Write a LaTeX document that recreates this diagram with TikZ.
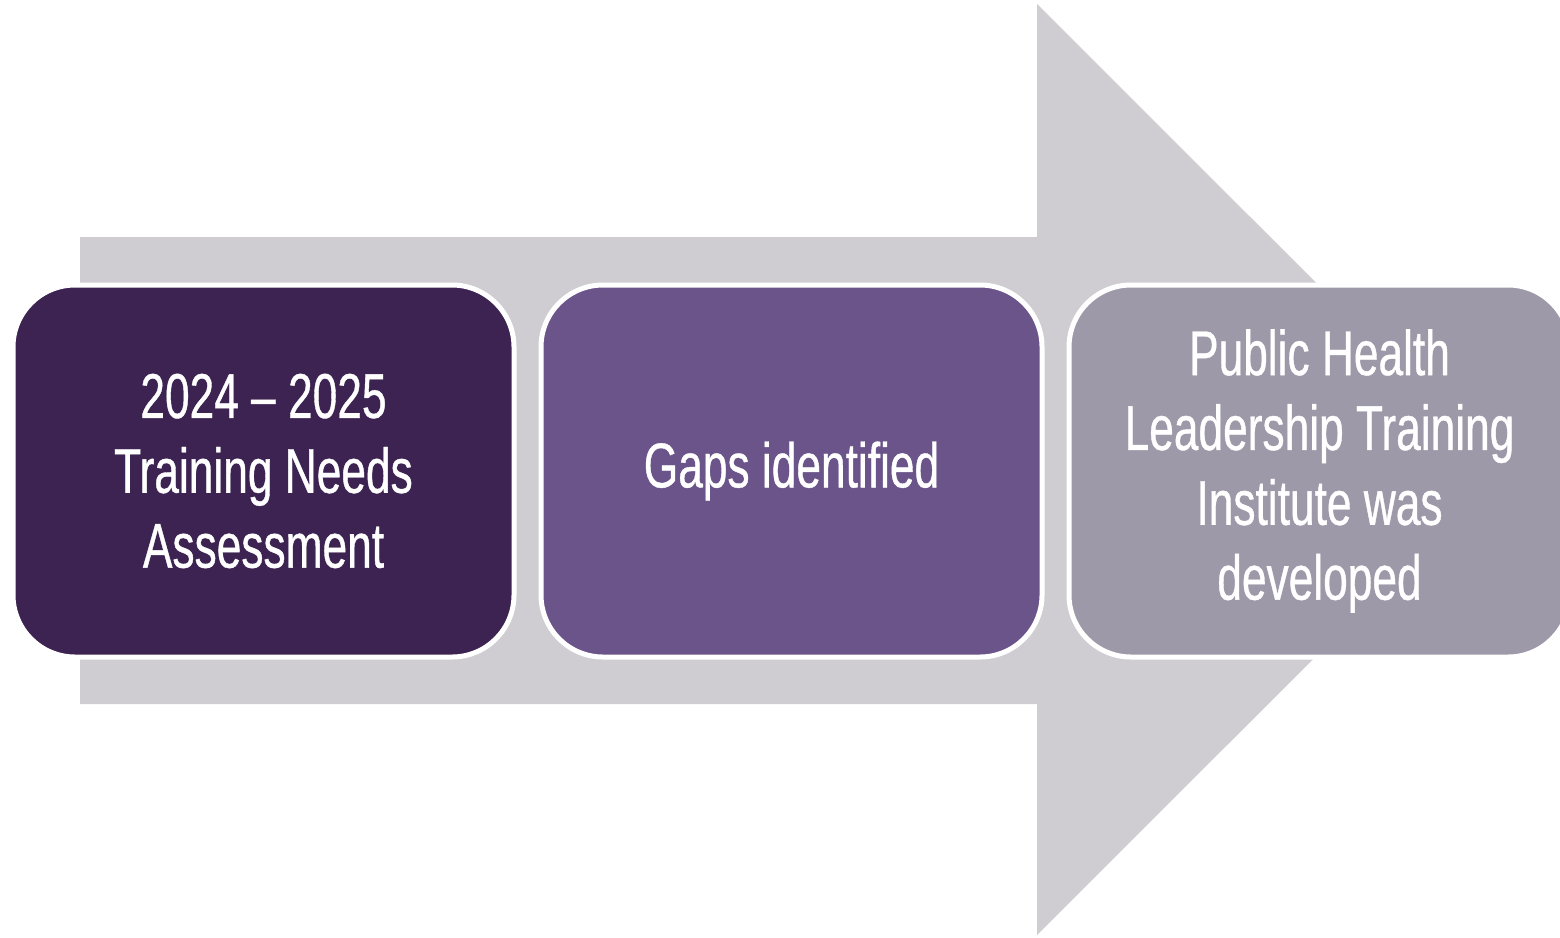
\documentclass[tikz,border=0pt]{standalone}
\usepackage{fontspec}
\setmainfont{Liberation Sans}[FakeStretch=0.70, FakeBold=0.6]
\usetikzlibrary{positioning}
\definecolor{arrowgray}{RGB}{207,205,210}
\definecolor{darkplum}{RGB}{61,35,82}
\definecolor{midplum}{RGB}{107,84,137}
\definecolor{greyplum}{RGB}{158,153,168}
\begin{document}
\begin{tikzpicture}[box/.style = {draw = white, line width = 0.05cm, rounded corners = 0.62cm,
                                  minimum width = 5.01cm, minimum height = 3.72cm, outer sep = 0pt,
                                  align = center, text = white,
                                  font = \fontsize{18}{21.3}\selectfont},
                    node distance = 0.27cm]
          \useasboundingbox (0,0) rectangle (15.6,9.37);

          \fill[arrowgray] (0.80,7.00) -- (10.37,7.00) -- (10.37,9.33) -- (15.03,4.675)
                           -- (10.37,0.02) -- (10.37,2.33) -- (0.80,2.33) -- cycle;

          \node[box, fill = darkplum] at (2.635,4.66) (1) {2024 -- 2025\\Training Needs\\Assessment};
          \node[box, fill = midplum, right = of 1]    (2) {Gaps identified};
          \node[box, fill = greyplum, right = of 2]   (3) {Public Health\\Leadership Training\\Institute was\\developed};
        \end{tikzpicture}
\end{document}
